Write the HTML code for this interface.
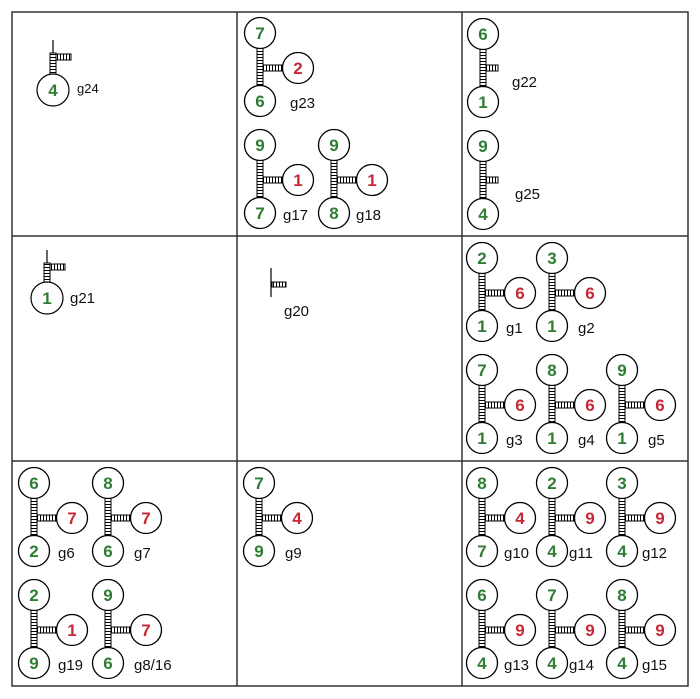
<!DOCTYPE html>
<html><head><meta charset="utf-8"><style>
html,body{margin:0;padding:0;background:#fff;}
svg{display:block;}
.d{font-family:"Liberation Sans",sans-serif;font-size:17px;font-weight:bold;text-anchor:middle;}
.g{fill:#2e7d32;}
.r{fill:#c62838;}
.l{font-family:"Liberation Sans",sans-serif;font-size:15px;fill:#111;}
</style></head><body>
<svg width="700" height="699" viewBox="0 0 700 699" xmlns="http://www.w3.org/2000/svg">
<defs>
<pattern id="vp" patternUnits="userSpaceOnUse" width="6" height="3"><line x1="0" y1="0.5" x2="6" y2="0.5" stroke="#000" stroke-width="1"/></pattern>
<pattern id="hp" patternUnits="userSpaceOnUse" width="3" height="6"><line x1="0.5" y1="0" x2="0.5" y2="6" stroke="#000" stroke-width="1"/></pattern>
<g id="tee" fill="#fff" stroke="#000" stroke-width="1.3">
<circle cx="0" cy="0" r="15.5"/><circle cx="0" cy="68" r="15.5"/><circle cx="38" cy="35" r="15.5"/>
<rect x="-3" y="15.5" width="6" height="37" fill="url(#vp)" stroke-width="1"/>
<rect x="3" y="32" width="19" height="6" fill="url(#hp)" stroke-width="1"/>
</g>
<g id="pair" fill="#fff" stroke="#000" stroke-width="1.3">
<circle cx="0" cy="0" r="15.5"/><circle cx="0" cy="68" r="15.5"/>
<rect x="-3" y="15.5" width="6" height="37" fill="url(#vp)" stroke-width="1"/>
<rect x="3" y="31" width="12" height="6" fill="url(#hp)" stroke-width="1"/>
</g>
</defs>
<g fill="none" stroke="#333" stroke-width="1.5">
<rect x="12" y="12" width="676" height="674"/>
<line x1="237" y1="12" x2="237" y2="686"/><line x1="462" y1="12" x2="462" y2="686"/>
<line x1="12" y1="236" x2="688" y2="236"/><line x1="12" y1="461" x2="688" y2="461"/>
</g>

<!-- g24 -->
<g stroke="#000" stroke-width="1.2" fill="#fff">
<line x1="53" y1="40" x2="53" y2="53"/>
<rect x="50" y="53" width="6" height="21" fill="url(#vp)" stroke-width="1"/>
<rect x="56" y="54" width="15" height="6" fill="url(#hp)" stroke-width="1"/>
<circle cx="53" cy="90" r="16"/>
</g>
<text class="d g" x="53" y="96">4</text><text class="l" x="77" y="93" style="font-size:13px">g24</text>

<!-- g21 -->
<g stroke="#000" stroke-width="1.2" fill="#fff">
<line x1="47" y1="250" x2="47" y2="263"/>
<rect x="44" y="263" width="6" height="19" fill="url(#vp)" stroke-width="1"/>
<rect x="50" y="264" width="15" height="6" fill="url(#hp)" stroke-width="1"/>
<circle cx="47" cy="298" r="16"/>
</g>
<text class="d g" x="47" y="304">1</text><text class="l" x="70" y="303">g21</text>

<!-- g20 -->
<g stroke="#000" stroke-width="1.2" fill="#fff">
<line x1="271" y1="268" x2="271" y2="297"/>
<rect x="272" y="282" width="14" height="5" fill="url(#hp)" stroke-width="1"/>
</g>
<text class="l" x="284" y="316">g20</text>

<!-- pairs -->
<use href="#pair" x="483" y="34"/><text class="d g" x="483" y="40">6</text><text class="d g" x="483" y="108">1</text><text class="l" x="512" y="87">g22</text>
<use href="#pair" x="483" y="146"/><text class="d g" x="483" y="152">9</text><text class="d g" x="483" y="220">4</text><text class="l" x="515" y="199">g25</text>

<!-- tees -->
<use href="#tee" x="260" y="33"/><text class="d g" x="260" y="39">7</text><text class="d r" x="298" y="74">2</text><text class="d g" x="260" y="107">6</text><text class="l" x="290" y="108">g23</text>
<use href="#tee" x="260" y="145"/><text class="d g" x="260" y="151">9</text><text class="d r" x="298" y="186">1</text><text class="d g" x="260" y="219">7</text><text class="l" x="283" y="220">g17</text>
<use href="#tee" x="334" y="145"/><text class="d g" x="334" y="151">9</text><text class="d r" x="372" y="186">1</text><text class="d g" x="334" y="219">8</text><text class="l" x="356" y="220">g18</text>

<use href="#tee" x="482" y="258"/><text class="d g" x="482" y="264">2</text><text class="d r" x="520" y="299">6</text><text class="d g" x="482" y="332">1</text><text class="l" x="506" y="333">g1</text>
<use href="#tee" x="552" y="258"/><text class="d g" x="552" y="264">3</text><text class="d r" x="590" y="299">6</text><text class="d g" x="552" y="332">1</text><text class="l" x="578" y="333">g2</text>
<use href="#tee" x="482" y="370"/><text class="d g" x="482" y="376">7</text><text class="d r" x="520" y="411">6</text><text class="d g" x="482" y="444">1</text><text class="l" x="506" y="445">g3</text>
<use href="#tee" x="552" y="370"/><text class="d g" x="552" y="376">8</text><text class="d r" x="590" y="411">6</text><text class="d g" x="552" y="444">1</text><text class="l" x="578" y="445">g4</text>
<use href="#tee" x="622" y="370"/><text class="d g" x="622" y="376">9</text><text class="d r" x="660" y="411">6</text><text class="d g" x="622" y="444">1</text><text class="l" x="648" y="445">g5</text>

<use href="#tee" x="34" y="483"/><text class="d g" x="34" y="489">6</text><text class="d r" x="72" y="524">7</text><text class="d g" x="34" y="557">2</text><text class="l" x="58" y="558">g6</text>
<use href="#tee" x="108" y="483"/><text class="d g" x="108" y="489">8</text><text class="d r" x="146" y="524">7</text><text class="d g" x="108" y="557">6</text><text class="l" x="134" y="558">g7</text>
<use href="#tee" x="34" y="595"/><text class="d g" x="34" y="601">2</text><text class="d r" x="72" y="636">1</text><text class="d g" x="34" y="669">9</text><text class="l" x="58" y="670">g19</text>
<use href="#tee" x="108" y="595"/><text class="d g" x="108" y="601">9</text><text class="d r" x="146" y="636">7</text><text class="d g" x="108" y="669">6</text><text class="l" x="134" y="670">g8/16</text>

<use href="#tee" x="259" y="483"/><text class="d g" x="259" y="489">7</text><text class="d r" x="297" y="524">4</text><text class="d g" x="259" y="557">9</text><text class="l" x="285" y="558">g9</text>

<use href="#tee" x="482" y="483"/><text class="d g" x="482" y="489">8</text><text class="d r" x="520" y="524">4</text><text class="d g" x="482" y="557">7</text><text class="l" x="504" y="558">g10</text>
<use href="#tee" x="552" y="483"/><text class="d g" x="552" y="489">2</text><text class="d r" x="590" y="524">9</text><text class="d g" x="552" y="557">4</text><text class="l" x="569" y="558">g11</text>
<use href="#tee" x="622" y="483"/><text class="d g" x="622" y="489">3</text><text class="d r" x="660" y="524">9</text><text class="d g" x="622" y="557">4</text><text class="l" x="642" y="558">g12</text>
<use href="#tee" x="482" y="595"/><text class="d g" x="482" y="601">6</text><text class="d r" x="520" y="636">9</text><text class="d g" x="482" y="669">4</text><text class="l" x="504" y="670">g13</text>
<use href="#tee" x="552" y="595"/><text class="d g" x="552" y="601">7</text><text class="d r" x="590" y="636">9</text><text class="d g" x="552" y="669">4</text><text class="l" x="569" y="670">g14</text>
<use href="#tee" x="622" y="595"/><text class="d g" x="622" y="601">8</text><text class="d r" x="660" y="636">9</text><text class="d g" x="622" y="669">4</text><text class="l" x="642" y="670">g15</text>
</svg>
</body></html>
